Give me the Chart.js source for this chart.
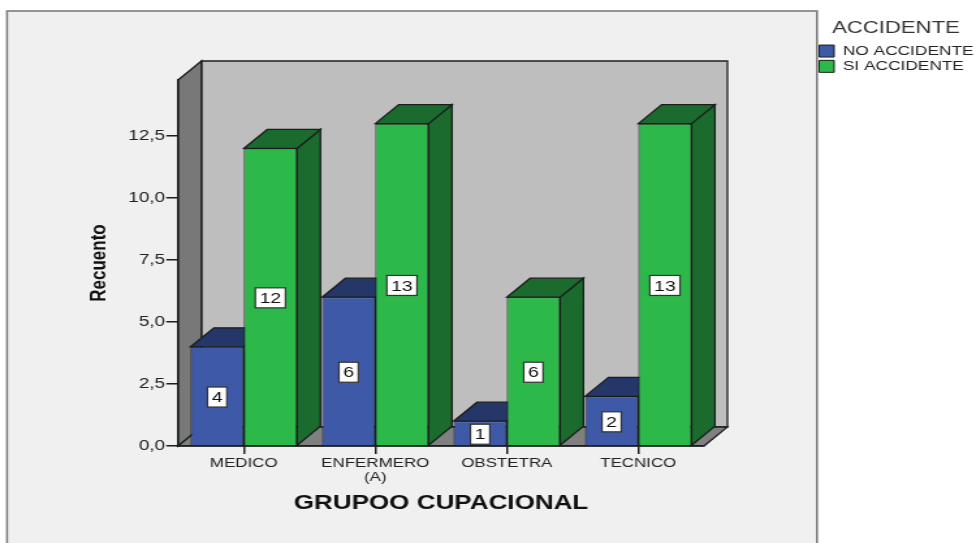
<!DOCTYPE html>
<html>
<head>
<meta charset="utf-8">
<title>GRUPOO CUPACIONAL</title>
<script src="https://cdn.jsdelivr.net/npm/chart.js@4/dist/chart.umd.min.js"></script>
<style>
  html, body { margin: 0; padding: 0; background: #fff; overflow: hidden; }
  /* the picture is stretched sideways, so the canvas is too */
  #chart { display: block; transform: scaleX(1.3013); transform-origin: 0 0; }
</style>
</head>
<body>
<canvas id="chart" width="750" height="543"></canvas>
<script>
const categories = ["MEDICO", ["ENFERMERO", "(A)"], "OBSTETRA", "TECNICO"];
const noAccidente = [4, 6, 1, 2];
const siAccidente = [12, 13, 6, 13];
const yTicks = [0, 2.5, 5, 7.5, 10, 12.5];
const yMax = 14.76;

const DX = 18;   // depth of the 3D box, before the stretch
const DY = 19;
const LINE = "#1a1f1c";

function poly(ctx, pts, fill) {
  ctx.beginPath();
  pts.forEach((p, i) => i ? ctx.lineTo(p[0], p[1]) : ctx.moveTo(p[0], p[1]));
  ctx.closePath();
  ctx.fillStyle = fill;
  ctx.fill();
  ctx.lineWidth = 1.3;
  ctx.strokeStyle = LINE;
  ctx.stroke();
}

const box3d = {
  id: "box3d",
  beforeDraw(chart) {
    const ctx = chart.ctx;
    const { left, right, top, bottom } = chart.chartArea;
    ctx.save();
    // outer panel
    ctx.fillStyle = "#f0f0f0";
    ctx.fillRect(5.4, 11, 622.4, 540);
    ctx.strokeStyle = "#7c7c7c";
    ctx.lineWidth = 1.6;
    ctx.strokeRect(5.4, 11, 622.4, 540);
    // back wall, left wall, floor
    poly(ctx, [[left + DX, top - DY], [right + DX, top - DY], [right + DX, bottom - DY], [left + DX, bottom - DY]], "#bebebe");
    poly(ctx, [[left, top], [left + DX, top - DY], [left + DX, bottom - DY], [left, bottom]], "#787878");
    poly(ctx, [[left, bottom], [left + DX, bottom - DY], [right + DX, bottom - DY], [right, bottom]], "#808080");
    ctx.restore();
  },
  beforeDatasetsDraw(chart) {
    const ctx = chart.ctx;
    ctx.save();
    chart.data.datasets.forEach((ds, i) => {
      chart.getDatasetMeta(i).data.forEach(bar => {
        const l = bar.x - bar.width / 2, r = bar.x + bar.width / 2;
        poly(ctx, [[r, bar.y], [r + DX, bar.y - DY], [r + DX, bar.base - DY], [r, bar.base]], ds.depthColor);
        poly(ctx, [[l, bar.y], [l + DX, bar.y - DY], [r + DX, bar.y - DY], [r, bar.y]], ds.depthColor);
      });
    });
    ctx.restore();
  },
  afterDatasetsDraw(chart) {
    const ctx = chart.ctx;
    ctx.save();
    ctx.font = "15px 'Liberation Sans'";
    ctx.textAlign = "center";
    ctx.textBaseline = "middle";
    chart.data.datasets.forEach((ds, i) => {
      chart.getDatasetMeta(i).data.forEach((bar, j) => {
        const txt = String(ds.data[j]);
        const w = ctx.measureText(txt).width + 6.5, h = 20;
        const cy = (bar.y + bar.base) / 2 + 1;
        ctx.fillStyle = "#fff";
        ctx.fillRect(bar.x - w / 2, cy - h / 2, w, h);
        ctx.strokeStyle = "#333";
        ctx.lineWidth = 1.2;
        ctx.strokeRect(bar.x - w / 2, cy - h / 2, w, h);
        ctx.fillStyle = "#111";
        ctx.fillText(txt, bar.x, cy + 1);
      });
    });
    ctx.restore();
  },
  afterLayout(chart) {
    // legend sits in the white strip right of the panel
    const lg = chart.legend;
    const h = lg.height;
    lg.left = 627.5; lg.right = 750;
    lg.width = 122;   // title is centred on this width
    lg.top = 15; lg.bottom = 15 + h;
  }
};

new Chart(document.getElementById("chart"), {
  type: "bar",
  data: {
    labels: categories,
    datasets: [
      { label: "NO ACCIDENTE", data: noAccidente, backgroundColor: "#3e59a8", depthColor: "#253668", borderColor: LINE, borderWidth: 1 },
      { label: "SI ACCIDENTE", data: siAccidente, backgroundColor: "#2db84a", depthColor: "#1b6b2e", borderColor: LINE, borderWidth: 1 }
    ]
  },
  options: {
    responsive: false,
    animation: false,
    devicePixelRatio: 1,
    layout: { padding: { left: 66.5, right: 209, top: 80, bottom: 28 } },
    datasets: { bar: { categoryPercentage: 0.81, barPercentage: 1 } },
    plugins: {
      tooltip: { enabled: false },
      legend: {
        position: "chartArea",
        align: "start",
        title: { display: true, text: "ACCIDENTE", color: "#333", font: { family: "'Liberation Sans'", size: 17 }, padding: { top: 5, bottom: 2 } },
        labels: { boxWidth: 11.5, boxHeight: 12, padding: 2, color: "#222", font: { family: "'Liberation Sans'", size: 13.3 } }
      }
    },
    scales: {
      x: {
        grid: { offset: false, drawOnChartArea: false, drawTicks: true, tickLength: 8, color: LINE, lineWidth: 1.5 },
        border: { color: LINE, width: 1.5 },
        ticks: { color: "#222", padding: 2, maxRotation: 0, autoSkip: false, font: { family: "'Liberation Sans'", size: 13, lineHeight: 1.08 } },
        title: { display: true, text: "GRUPOO CUPACIONAL", color: "#111", font: { family: "'Liberation Sans'", size: 20, weight: "bold" }, padding: 0 },
        afterFit(scale) { scale.height = 69; }
      },
      y: {
        min: 0,
        max: yMax,
        grid: { drawOnChartArea: false, drawTicks: true, tickLength: 9, color: LINE, lineWidth: 1.5 },
        border: { color: LINE, width: 1.5 },
        ticks: {
          color: "#222",
          padding: 1,
          font: { family: "'Liberation Sans'", size: 14.5 },
          callback: v => v.toFixed(1).replace(".", ",")
        },
        afterBuildTicks(scale) { scale.ticks = yTicks.map(v => ({ value: v })); },
        title: { display: true, text: "Recuento", color: "#111", font: { family: "'Liberation Sans'", size: 17, weight: "bold" }, padding: 0 },
        afterFit(scale) { scale.width = 70.3; }
      }
    }
  },
  plugins: [box3d]
});
</script>
</body>
</html>
